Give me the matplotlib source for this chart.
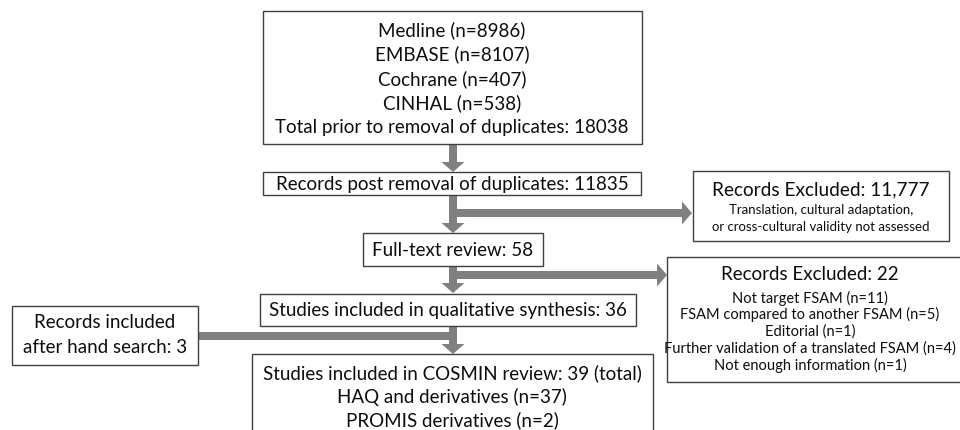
"""PRISMA-style flow diagram of the COSMIN review search."""

import matplotlib.pyplot as plt
from matplotlib.patches import FancyArrow, Rectangle

plt.rcParams["font.family"] = ["Lato", "DejaVu Sans"]

# -----------------------------------------------------------------------------
# Content
# -----------------------------------------------------------------------------
source_lines = [
    "Medline (n=8986)",
    "EMBASE (n=8107)",
    "Cochrane (n=407)",
    "CINHAL (n=538)",
    "Total prior to removal of duplicates: 18038",
]
dedup_text = "Records post removal of duplicates: 11835"
fulltext_text = "Full-text review: 58"
qualitative_text = "Studies included in qualitative synthesis: 36"
hand_search_lines = ["Records included", "after hand search: 3"]
cosmin_lines = [
    "Studies included in COSMIN review: 39 (total)",
    "HAQ and derivatives (n=37)",
    "PROMIS derivatives (n=2)",
]
excluded1_title = "Records Excluded: 11,777"
excluded1_lines = [
    "Translation, cultural adaptation,",
    "or cross-cultural validity not assessed",
]
excluded2_title = "Records Excluded: 22"
excluded2_lines = [
    "Not target FSAM (n=11)",
    "FSAM compared to another FSAM (n=5)",
    "Editorial (n=1)",
    "Further validation of a translated FSAM (n=4)",
    "Not enough information (n=1)",
]

# -----------------------------------------------------------------------------
# Layout (pixel coordinates, y downwards)
# -----------------------------------------------------------------------------
W, H = 960, 431
TEXT = "#0d0d0d"
EDGE = "#404040"
ARROW = "#808080"
MAIN_X = 453
BIG = 13.5

fig = plt.figure(figsize=(W / 100, H / 100), dpi=100, facecolor="white")
ax = fig.add_axes([0, 0, 1, 1])
ax.set_xlim(0, W)
ax.set_ylim(H, 0)
ax.axis("off")


def box(x0, y0, x1, y1):
    ax.add_patch(Rectangle((x0, y0), x1 - x0, y1 - y0, facecolor="white",
                           edgecolor=EDGE, linewidth=1.0, zorder=3))


def lines(cx, y_first, items, step, size):
    for i, s in enumerate(items):
        ax.text(cx, y_first + i * step, s, ha="center", va="center",
                fontsize=size, color=TEXT, zorder=4)


def arrow(x0, y0, x1, y1, head=True):
    dx, dy = x1 - x0, y1 - y0
    ax.add_patch(FancyArrow(x0, y0, dx, dy, width=8,
                            head_width=23 if head else 8,
                            head_length=10 if head else 0,
                            length_includes_head=True, color=ARROW,
                            linewidth=0, zorder=2))


# arrows first so boxes sit on top
arrow(MAIN_X, 145, MAIN_X, 173)
arrow(MAIN_X, 196, MAIN_X, 234)
arrow(MAIN_X, 214, 692, 214)
arrow(MAIN_X, 267, MAIN_X, 294)
arrow(MAIN_X, 276, 667, 276)
arrow(MAIN_X, 328, MAIN_X, 355)
arrow(198, 337, MAIN_X + 4, 337, head=False)

# sources
box(263, 12, 642, 145)
lines(452, 30, source_lines, 24.5, BIG)

# after de-duplication
box(263, 173, 641, 196)
lines(452, 184.5, [dedup_text], 0, BIG)

# full text
box(363, 234, 543, 267)
lines(453, 250.5, [fulltext_text], 0, BIG)

# qualitative synthesis
box(260, 295, 636, 327)
lines(448, 311, [qualitative_text], 0, BIG)

# hand search
box(12, 307, 198, 366)
lines(105, 323, hand_search_lines, 25, BIG)

# COSMIN review (runs off the bottom edge)
box(252, 355, 653, 440)
lines(452, 373, cosmin_lines, 23.5, BIG)

# exclusions
box(693, 172, 949, 242)
lines(821, 190, [excluded1_title], 0, 13.7)
lines(821, 210, excluded1_lines, 17, 9.5)

box(667, 258, 966, 383)
lines(810, 275, [excluded2_title], 0, 13.5)
lines(810, 298, excluded2_lines, 16.8, 10.5)

fig.savefig("out.png", dpi=100, facecolor="white")
